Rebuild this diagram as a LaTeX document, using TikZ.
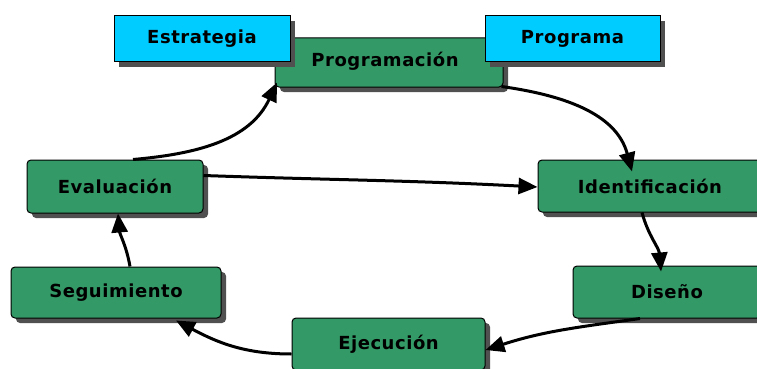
\documentclass[tikz,border=0pt]{standalone}
\usepackage{fontspec}
\setmainfont{DejaVu Sans}[LetterSpace=3]
\usepackage{tikz}
\usetikzlibrary{arrows.meta,shadows}

\definecolor{cajaverde}{RGB}{51,153,102}
\definecolor{cajaazul}{RGB}{0,204,255}
\definecolor{sombra}{RGB}{80,80,80}

\tikzset{
  rotulo/.style={font=\bfseries\fontsize{18}{21}\selectfont},
  fase/.style={rotulo, draw=black, line width=1pt, fill=cajaverde, rounded corners=4pt,
    inner sep=0pt,
    drop shadow={shadow xshift=5pt, shadow yshift=-5pt, fill=sombra, opacity=1}},
  insumo/.style={rotulo, draw=black, line width=1pt, fill=cajaazul,
    inner sep=0pt,
    drop shadow={shadow xshift=5pt, shadow yshift=-5pt, fill=sombra, opacity=1}},
  flujo/.style={line width=3pt, -{Triangle[length=19pt,width=16pt]}}
}

\begin{document}
\begin{tikzpicture}[x=1pt, y=-1pt]
%\draw[step=10pt,gray,very thin] (0,0) grid (757,369);
\useasboundingbox (0,0) rectangle (757,369);
\node[fase, minimum width=228pt, minimum height=49pt] (prog) at (389,62.5) {};%%
\node[rotulo] (progtxt) at (385,61) {Programación};%%
\node[insumo, minimum width=176pt, minimum height=46pt] (estr) at (202,39) {Estrategia};%%
\node[insumo, minimum width=175pt, minimum height=46pt] (progr) at (572.5,39) {Programa};%%
\node[fase, minimum width=176pt, minimum height=53pt] (eval) at (115,186.5) {Evaluación};%%
\node[fase, minimum width=224pt, minimum height=52pt] (ident) at (650,186) {Identificación};%%
\node[fase, minimum width=210pt, minimum height=51pt] (segu) at (116,292.5) {Seguimiento};%%
\node[fase, minimum width=188pt, minimum height=52pt] (dise) at (667,292) {Diseño};%%
\node[fase, minimum width=193pt, minimum height=52pt] (ejec) at (388.5,344) {Ejecución};%%
%% flechas
\draw[flujo] ([xshift=18pt]eval.north) to[out=5, in=-115] ([xshift=-112pt,yshift=5pt]prog.south);%%
\draw[flujo] ([xshift=-2pt,yshift=1pt]prog.south east) to[out=-8, in=105] ([xshift=-18pt,yshift=-12pt]ident.north);%%
\draw[flujo] ([yshift=11pt]eval.east) to[out=-2, in=177] ([yshift=-1pt]ident.west);%%
\draw[flujo] ([xshift=-8pt]ident.south) to[out=-75, in=95] ([xshift=-6pt,yshift=-6pt]dise.north);%%
\draw[flujo] ([xshift=-27pt]dise.south) to[out=188, in=18] ([yshift=-6pt]ejec.east);%%
\draw[flujo] ([yshift=-10pt]ejec.west) to[out=180, in=-28] ([xshift=60pt,yshift=-2pt]segu.south);%%
\draw[flujo] ([xshift=14pt]segu.north) to[out=100, in=-85] ([xshift=3pt]eval.south);%%
\end{tikzpicture}
\end{document}
